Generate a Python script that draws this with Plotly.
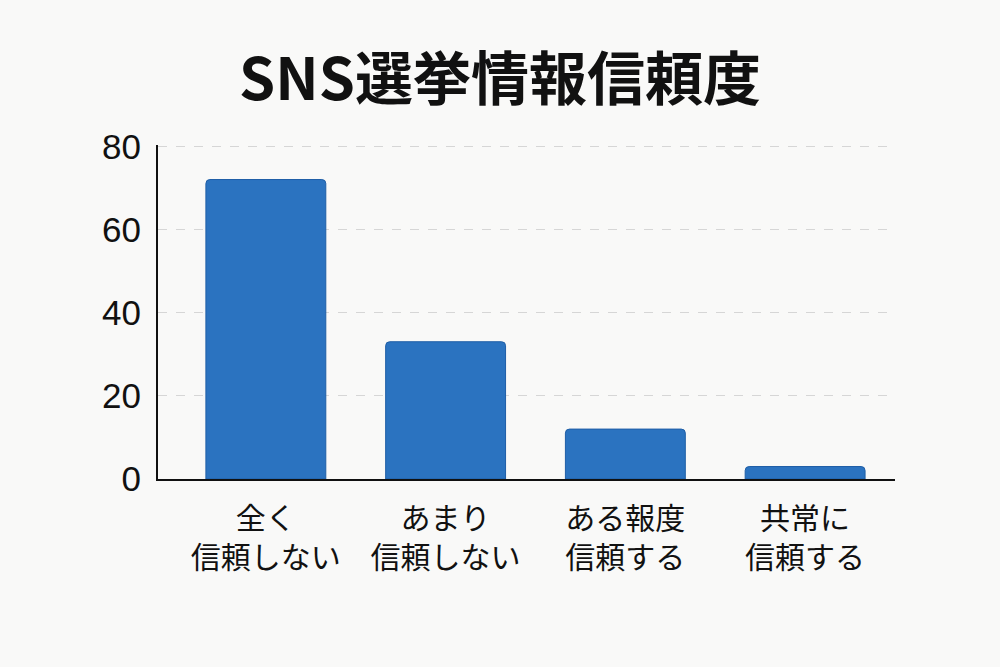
import plotly.graph_objects as go

categories = ["全く<br>信頼しない", "あまり<br>信頼しない", "ある報度<br>信頼する", "共常に<br>信頼する"]
values = [72, 33, 12, 3]
y_ticks = [0, 20, 40, 60, 80]

FONT = "Noto Sans CJK JP"
BG = "#f9f9f8"

fig = go.Figure()
fig.add_trace(go.Bar(
    x=list(range(len(categories))),
    y=values,
    width=0.667,
    marker=dict(color="#2b73c0", line=dict(color="#1f5ea6", width=1), cornerradius=4),
))

fig.update_layout(
    width=1000, height=667,
    paper_bgcolor=BG, plot_bgcolor=BG,
    margin=dict(l=158, r=105, t=145, b=188),
    showlegend=False,
    font=dict(family=FONT, color="#111111"),
    title=dict(text="<b>SNS選挙情報信頼度</b>", x=0.5, xanchor="center", y=0.881, yanchor="middle",
               font=dict(family=FONT, size=58, color="#111111")),
)
fig.update_xaxes(
    tickmode="array", tickvals=list(range(len(categories))), ticktext=categories,
    range=[-0.6, 3.5], showgrid=False, showline=True, linecolor="#111111", linewidth=2,
    ticks="", ticklabelstandoff=12, tickfont=dict(size=30, color="#111111"), zeroline=False,
)
fig.update_yaxes(
    range=[0, 80.3], tickvals=y_ticks, showgrid=True, gridcolor="#d6d6d6", griddash="dash",
    gridwidth=1, showline=True, linecolor="#111111", linewidth=2, zeroline=False,
    ticks="", ticklabelstandoff=8, tickfont=dict(family="Liberation Sans", size=35, color="#111111"),
)

# drop the default page margin so the figure fills the window
fig.write_html("out.html", config={"displayModeBar": False},
               post_script="document.body.style.margin='0';document.body.style.background='#f9f9f8';")
